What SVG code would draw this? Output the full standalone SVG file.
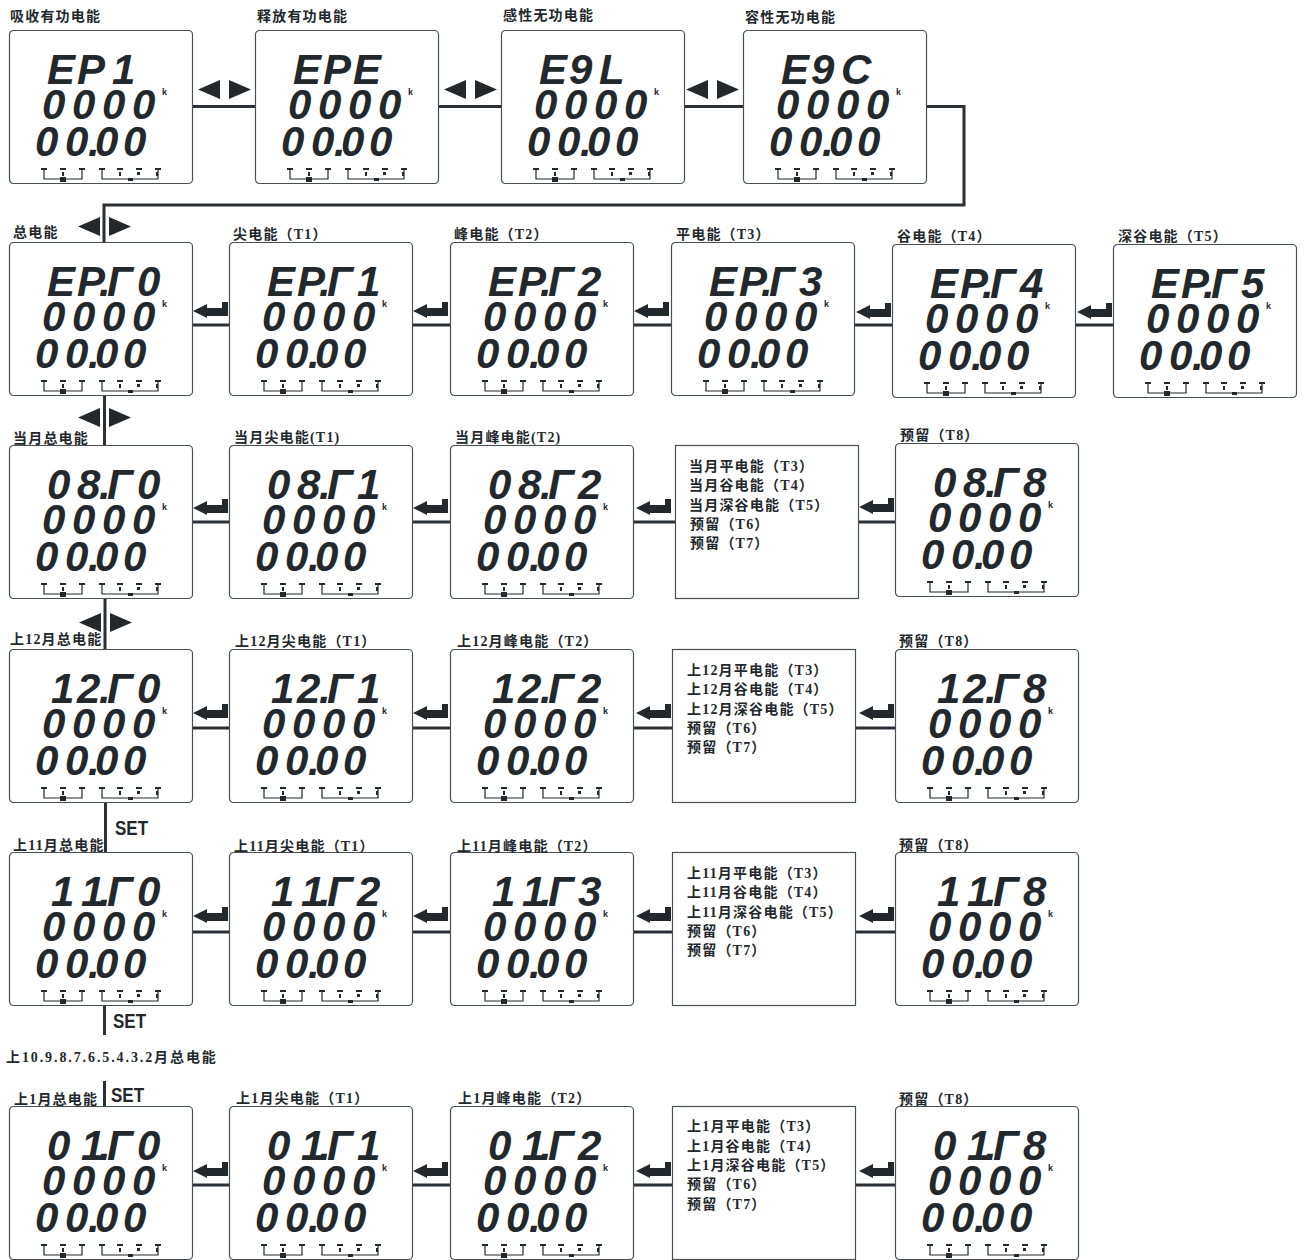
<svg xmlns="http://www.w3.org/2000/svg" width="1305" height="1260" viewBox="0 0 1305 1260">
<style>
text{fill:#23282c}
.d{font:italic bold 42px "Liberation Sans",Arial,sans-serif}
.k{font:bold 9px "Liberation Sans",Arial,sans-serif}
.l{font:bold 14px "Liberation Serif","Noto Sans CJK SC",serif;letter-spacing:1.2px}
.s{font:bold 20px "Liberation Sans",Arial,sans-serif}
.b{fill:#fff;stroke:#4a4f53;stroke-width:1.2}
.c{fill:none;stroke:#2a3035;stroke-width:3}
.m{fill:#23282c}
.w{fill:none;stroke:#23282c;stroke-width:1.2}
</style>
<defs>
<g id="p"><rect class="b" x="0.5" y="0.5" width="183" height="153" rx="4"/>
<path class="w" d="M35 139V149H73V139M93 139V149H149V139"/>
<path class="m" d="M32 138h6v2h-6zM51 138h6v2h-6zM70 138h6v2h-6zM90 138h6v2h-6zM108 138h6v2h-6zM127 138h6v2h-6zM146 138h6v2h-6z"/>
<path class="m" d="M53 142h2v4h-2zM110 142h2v4h-2zM128 142h3v3h-3zM147 142h2v4h-2z"/>
<rect class="m" x="51" y="147" width="6" height="5"/><rect class="m" x="119" y="148" width="5" height="3"/></g>
<rect id="q" class="b" x="0.5" y="0.5" width="183" height="153"/>
<path id="ret" class="m" d="M0 9L14 2V6H29V0H35V14H14V16Z"/>
<path id="lr" class="m" d="M0 9.500L22 0V19ZM31 0L53 9.500L31 19Z"/>
</defs>
<g id="connectors">
<path class="c" d="M192 106.500H255M438 106.500H501M683 106.500H743M926 106.500H964V205H104V242M104.500 395V445M105 598V649M105.500 802V852M104.500 1005V1035M104.500 1081V1106"/>
<path class="c" d="M192 325H229M412 325H450M633 325H671M855 325H892M1076 325H1113M192 522H229M412 522H450M633 522H675M858 522H895M192 728H229M412 728H450M633 728H672M854 728H895M192 932H229M412 932H450M633 932H672M855 932H895M192 1185H229M412 1185H450M633 1185H672M855 1185H895"/>
<use href="#lr" x="198" y="80"/><use href="#lr" x="444" y="80"/><use href="#lr" x="686" y="80"/>
<use href="#lr" x="78" y="217"/><use href="#lr" x="78" y="408"/><use href="#lr" x="79" y="613"/>
<use href="#ret" x="193" y="302"/><use href="#ret" x="413" y="302"/><use href="#ret" x="634" y="302"/><use href="#ret" x="856" y="303"/><use href="#ret" x="1077" y="303"/>
<use href="#ret" x="193" y="499"/><use href="#ret" x="413" y="499"/><use href="#ret" x="636" y="499"/><use href="#ret" x="859" y="498"/>
<use href="#ret" x="193" y="704"/><use href="#ret" x="413" y="704"/><use href="#ret" x="636" y="704"/><use href="#ret" x="859" y="704"/>
<use href="#ret" x="193" y="907"/><use href="#ret" x="413" y="907"/><use href="#ret" x="636" y="907"/><use href="#ret" x="859" y="907"/>
<use href="#ret" x="193" y="1162"/><use href="#ret" x="413" y="1162"/><use href="#ret" x="636" y="1162"/><use href="#ret" x="859" y="1162"/>
<text class="s" x="115" y="835" textLength="33" lengthAdjust="spacingAndGlyphs">SET</text><text class="s" x="113" y="1028" textLength="33" lengthAdjust="spacingAndGlyphs">SET</text><text class="s" x="111" y="1102" textLength="33" lengthAdjust="spacingAndGlyphs">SET</text>
</g>
<text id="label-months" class="l" x="6" y="1062" style="letter-spacing:1.9px">上10.9.8.7.6.5.4.3.2月总电能</text>

<g id="n-ep1" transform="translate(9,30)"><use href="#p"/><text class="l" x="1" y="-9">吸收有功电能</text><text class="d" x="38 68 103" y="54">EP1</text><text class="d" x="33 63 93 123" y="89">0000</text><text class="d" x="26 56 79 86 114" y="126">00.00</text><text class="k" x="153" y="65">k</text></g>
<g id="n-epe" transform="translate(255,30)"><use href="#p"/><text class="l" x="2" y="-9">释放有功电能</text><text class="d" x="38 68 98" y="54">EPE</text><text class="d" x="33 63 93 123" y="89">0000</text><text class="d" x="26 56 79 86 114" y="126">00.00</text><text class="k" x="153" y="65">k</text></g>
<g id="n-e9l" transform="translate(501,30)"><use href="#p"/><text class="l" x="2" y="-10">感性无功电能</text><text class="d" x="38 68 98" y="54">E9L</text><text class="d" x="33 63 93 123" y="89">0000</text><text class="d" x="26 56 79 86 114" y="126">00.00</text><text class="k" x="153" y="65">k</text></g>
<g id="n-e9c" transform="translate(743,30)"><use href="#p"/><text class="l" x="2" y="-8">容性无功电能</text><text class="d" x="38 68 98" y="54">E9C</text><text class="d" x="33 63 93 123" y="89">0000</text><text class="d" x="26 56 79 86 114" y="126">00.00</text><text class="k" x="153" y="65">k</text></g>

<g id="n-t0" transform="translate(9,242)"><use href="#p"/><text class="l" x="4" y="-5">总电能</text><text class="d" x="38 68 90 98 128" y="54">EP.Γ0</text><text class="d" x="33 63 93 123" y="89">0000</text><text class="d" x="26 56 79 86 114" y="126">00.00</text><text class="k" x="153" y="65">k</text></g>
<g id="n-t1" transform="translate(229,242)"><use href="#p"/><text class="l" x="4" y="-3">尖电能（T1）</text><text class="d" x="38 68 90 98 128" y="54">EP.Γ1</text><text class="d" x="33 63 93 123" y="89">0000</text><text class="d" x="26 56 79 86 114" y="126">00.00</text><text class="k" x="153" y="65">k</text></g>
<g id="n-t2" transform="translate(450,242)"><use href="#p"/><text class="l" x="4" y="-3">峰电能（T2）</text><text class="d" x="38 68 90 98 128" y="54">EP.Γ2</text><text class="d" x="33 63 93 123" y="89">0000</text><text class="d" x="26 56 79 86 114" y="126">00.00</text><text class="k" x="153" y="65">k</text></g>
<g id="n-t3" transform="translate(671,242)"><use href="#p"/><text class="l" x="5" y="-3">平电能（T3）</text><text class="d" x="38 68 90 98 128" y="54">EP.Γ3</text><text class="d" x="33 63 93 123" y="89">0000</text><text class="d" x="26 56 79 86 114" y="126">00.00</text><text class="k" x="153" y="65">k</text></g>
<g id="n-t4" transform="translate(892,244)"><use href="#p"/><text class="l" x="5" y="-3">谷电能（T4）</text><text class="d" x="38 68 90 98 128" y="54">EP.Γ4</text><text class="d" x="33 63 93 123" y="89">0000</text><text class="d" x="26 56 79 86 114" y="126">00.00</text><text class="k" x="153" y="65">k</text></g>
<g id="n-t5" transform="translate(1113,244)"><use href="#p"/><text class="l" x="5" y="-3">深谷电能（T5）</text><text class="d" x="38 68 90 98 128" y="54">EP.Γ5</text><text class="d" x="33 63 93 123" y="89">0000</text><text class="d" x="26 56 79 86 114" y="126">00.00</text><text class="k" x="153" y="65">k</text></g>

<g id="n-m0" transform="translate(9,445)"><use href="#p"/><text class="l" x="4" y="-2">当月总电能</text><text class="d" x="38 68 90 98 128" y="54">08.Γ0</text><text class="d" x="33 63 93 123" y="89">0000</text><text class="d" x="26 56 79 86 114" y="126">00.00</text><text class="k" x="153" y="65">k</text></g>
<g id="n-m1" transform="translate(229,445)"><use href="#p"/><text class="l" x="5" y="-3">当月尖电能(T1)</text><text class="d" x="38 68 90 98 128" y="54">08.Γ1</text><text class="d" x="33 63 93 123" y="89">0000</text><text class="d" x="26 56 79 86 114" y="126">00.00</text><text class="k" x="153" y="65">k</text></g>
<g id="n-m2" transform="translate(450,445)"><use href="#p"/><text class="l" x="5" y="-3">当月峰电能(T2)</text><text class="d" x="38 68 90 98 128" y="54">08.Γ2</text><text class="d" x="33 63 93 123" y="89">0000</text><text class="d" x="26 56 79 86 114" y="126">00.00</text><text class="k" x="153" y="65">k</text></g>
<g id="n-m-list" transform="translate(675,445)"><use href="#q"/><text class="l" x="14" y="26">当月平电能（T3）</text><text class="l" x="14" y="45">当月谷电能（T4）</text><text class="l" x="14" y="65">当月深谷电能（T5）</text><text class="l" x="15" y="84">预留（T6）</text><text class="l" x="15" y="103">预留（T7）</text></g>
<g id="n-m8" transform="translate(895,443)"><use href="#p"/><text class="l" x="5" y="-3">预留（T8）</text><text class="d" x="38 68 90 98 128" y="54">08.Γ8</text><text class="d" x="33 63 93 123" y="89">0000</text><text class="d" x="26 56 79 86 114" y="126">00.00</text><text class="k" x="153" y="65">k</text></g>

<g id="n-a0" transform="translate(9,649)"><use href="#p"/><text class="l" x="1" y="-5">上12月总电能</text><text class="d" x="42 68 90 98 128" y="54">12.Γ0</text><text class="d" x="33 63 93 123" y="89">0000</text><text class="d" x="26 56 79 86 114" y="126">00.00</text><text class="k" x="153" y="65">k</text></g>
<g id="n-a1" transform="translate(229,649)"><use href="#p"/><text class="l" x="6" y="-3">上12月尖电能（T1）</text><text class="d" x="42 68 90 98 128" y="54">12.Γ1</text><text class="d" x="33 63 93 123" y="89">0000</text><text class="d" x="26 56 79 86 114" y="126">00.00</text><text class="k" x="153" y="65">k</text></g>
<g id="n-a2" transform="translate(450,649)"><use href="#p"/><text class="l" x="7" y="-3">上12月峰电能（T2）</text><text class="d" x="42 68 90 98 128" y="54">12.Γ2</text><text class="d" x="33 63 93 123" y="89">0000</text><text class="d" x="26 56 79 86 114" y="126">00.00</text><text class="k" x="153" y="65">k</text></g>
<g id="n-a-list" transform="translate(672,649)"><use href="#q"/><text class="l" x="15" y="26">上12月平电能（T3）</text><text class="l" x="15" y="45">上12月谷电能（T4）</text><text class="l" x="15" y="65">上12月深谷电能（T5）</text><text class="l" x="15" y="84">预留（T6）</text><text class="l" x="15" y="103">预留（T7）</text></g>
<g id="n-a8" transform="translate(895,649)"><use href="#p"/><text class="l" x="4" y="-3">预留（T8）</text><text class="d" x="42 68 90 98 128" y="54">12.Γ8</text><text class="d" x="33 63 93 123" y="89">0000</text><text class="d" x="26 56 79 86 114" y="126">00.00</text><text class="k" x="153" y="65">k</text></g>

<g id="n-b0" transform="translate(9,852)"><use href="#p"/><text class="l" x="4" y="-2">上11月总电能</text><text class="d" x="42 72 90 98 128" y="54">11.Γ0</text><text class="d" x="33 63 93 123" y="89">0000</text><text class="d" x="26 56 79 86 114" y="126">00.00</text><text class="k" x="153" y="65">k</text></g>
<g id="n-b1" transform="translate(229,852)"><use href="#p"/><text class="l" x="5" y="-1">上11月尖电能（T1）</text><text class="d" x="42 72 90 98 128" y="54">11.Γ2</text><text class="d" x="33 63 93 123" y="89">0000</text><text class="d" x="26 56 79 86 114" y="126">00.00</text><text class="k" x="153" y="65">k</text></g>
<g id="n-b2" transform="translate(450,852)"><use href="#p"/><text class="l" x="7" y="-1">上11月峰电能（T2）</text><text class="d" x="42 72 90 98 128" y="54">11.Γ3</text><text class="d" x="33 63 93 123" y="89">0000</text><text class="d" x="26 56 79 86 114" y="126">00.00</text><text class="k" x="153" y="65">k</text></g>
<g id="n-b-list" transform="translate(672,852)"><use href="#q"/><text class="l" x="15" y="26">上11月平电能（T3）</text><text class="l" x="15" y="45">上11月谷电能（T4）</text><text class="l" x="15" y="65">上11月深谷电能（T5）</text><text class="l" x="15" y="84">预留（T6）</text><text class="l" x="15" y="103">预留（T7）</text></g>
<g id="n-b8" transform="translate(895,852)"><use href="#p"/><text class="l" x="4" y="-2">预留（T8）</text><text class="d" x="42 72 90 98 128" y="54">11.Γ8</text><text class="d" x="33 63 93 123" y="89">0000</text><text class="d" x="26 56 79 86 114" y="126">00.00</text><text class="k" x="153" y="65">k</text></g>

<g id="n-c0" transform="translate(9,1106)"><use href="#p"/><text class="l" x="5" y="-2">上1月总电能</text><text class="d" x="38 72 90 98 128" y="54">01.Γ0</text><text class="d" x="33 63 93 123" y="89">0000</text><text class="d" x="26 56 79 86 114" y="126">00.00</text><text class="k" x="153" y="65">k</text></g>
<g id="n-c1" transform="translate(229,1106)"><use href="#p"/><text class="l" x="7" y="-3">上1月尖电能（T1）</text><text class="d" x="38 72 90 98 128" y="54">01.Γ1</text><text class="d" x="33 63 93 123" y="89">0000</text><text class="d" x="26 56 79 86 114" y="126">00.00</text><text class="k" x="153" y="65">k</text></g>
<g id="n-c2" transform="translate(450,1106)"><use href="#p"/><text class="l" x="8" y="-3">上1月峰电能（T2）</text><text class="d" x="38 72 90 98 128" y="54">01.Γ2</text><text class="d" x="33 63 93 123" y="89">0000</text><text class="d" x="26 56 79 86 114" y="126">00.00</text><text class="k" x="153" y="65">k</text></g>
<g id="n-c-list" transform="translate(672,1106)"><use href="#q"/><text class="l" x="15" y="25">上1月平电能（T3）</text><text class="l" x="15" y="45">上1月谷电能（T4）</text><text class="l" x="15" y="64">上1月深谷电能（T5）</text><text class="l" x="15" y="83">预留（T6）</text><text class="l" x="15" y="103">预留（T7）</text></g>
<g id="n-c8" transform="translate(895,1106)"><use href="#p"/><text class="l" x="4" y="-2">预留（T8）</text><text class="d" x="38 72 90 98 128" y="54">01.Γ8</text><text class="d" x="33 63 93 123" y="89">0000</text><text class="d" x="26 56 79 86 114" y="126">00.00</text><text class="k" x="153" y="65">k</text></g>
</svg>
